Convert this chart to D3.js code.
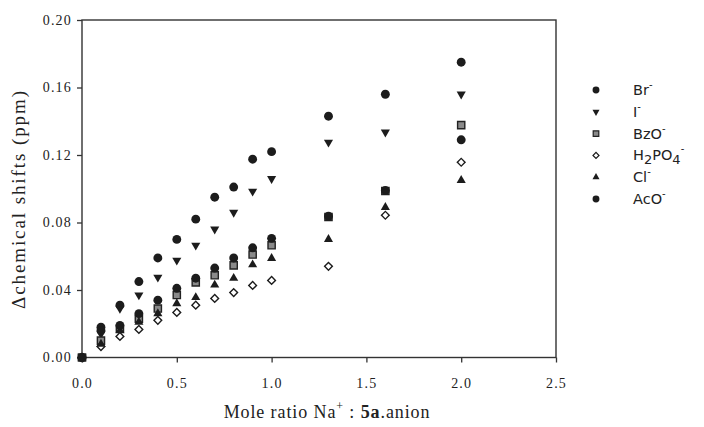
<!DOCTYPE html>
<meta charset="utf-8">
<style>
  body { margin: 0; background: #fff; }
  svg text { fill: #222; }
</style>
<svg width="704" height="427"></svg>
<script src="https://cdn.jsdelivr.net/npm/d3@7"></script>
<script>
// mole ratio (x) shared by all series
var ratios = [0, 0.1, 0.2, 0.3, 0.4, 0.5, 0.6, 0.7, 0.8, 0.9, 1.0, 1.3, 1.6, 2.0];

var br    = [0, 0.018, 0.031, 0.045, 0.059, 0.070, 0.082, 0.095, 0.101, 0.1175, 0.122, 0.143, 0.156, 0.175];
var iod   = [0, 0.014, 0.029, 0.037, 0.0475, 0.0576, 0.0665, 0.076, 0.086, 0.0985, 0.106, 0.1275, 0.1335, 0.156];
var bzo   = [0, 0.010, 0.017, 0.023, 0.029, 0.037, 0.0445, 0.0487, 0.0546, 0.061, 0.0665, 0.0833, 0.0987, 0.1377];
var h2po4 = [0, 0.0065, 0.0125, 0.0166, 0.022, 0.0267, 0.031, 0.035, 0.0385, 0.0427, 0.0457, 0.054, 0.0843, 0.1157];
var cl    = [0, 0.008, 0.016, 0.021, 0.026, 0.032, 0.0356, 0.043, 0.047, 0.055, 0.0588, 0.070, 0.089, 0.105];
var aco   = [0, 0.016, 0.019, 0.026, 0.034, 0.041, 0.047, 0.053, 0.059, 0.065, 0.0706, 0.0837, 0.099, 0.129];

var xTicks = [0, 0.5, 1.0, 1.5, 2.0, 2.5];
var yTicks = [0, 0.04, 0.08, 0.12, 0.16, 0.20];

var svg = d3.select("svg"),
    margin = {top: 20, right: 148, bottom: 70, left: 82},
    width = +svg.attr("width"),
    height = +svg.attr("height");

var x = d3.scaleLinear().domain([0, 2.5]).range([margin.left, 556]);
var y = d3.scaleLinear().domain([0, 0.2]).range([357.5, margin.top]);

var ink = "#1c1c1c";

// marker shapes
var shapes = {
    circle:   {type: d3.symbolCircle, size: 62, rot: 0, fill: ink, stroke: "none"},
    tridown:  {type: d3.symbolTriangle, size: 36, rot: 180, fill: ink, stroke: "none"},
    triup:    {type: d3.symbolTriangle, size: 36, rot: 0, fill: ink, stroke: "none"},
    square:   {type: d3.symbolSquare, size: 52, rot: 0, fill: "#8a8a8a", stroke: "#222"},
    diamond:  {type: d3.symbolSquare, size: 30, rot: 45, fill: "#fff", stroke: ink}
};

// legend order = draw order
var series = [
    {name: "Br", values: br, shape: "circle"},
    {name: "I", values: iod, shape: "tridown"},
    {name: "BzO", values: bzo, shape: "square"},
    {name: "H2PO4", values: h2po4, shape: "diamond"},
    {name: "Cl", values: cl, shape: "triup"},
    {name: "AcO", values: aco, shape: "circle"}
];

// axes
var xAxis = d3.axisBottom(x).tickValues(xTicks).tickFormat(d3.format(".1f")).tickSize(5).tickPadding(16);
var yAxis = d3.axisLeft(y).tickValues(yTicks).tickFormat(d3.format(".2f")).tickSize(5).tickPadding(5);

var gx = svg.append("g")
    .attr("transform", "translate(0," + y(0) + ")")
    .call(xAxis);
var gy = svg.append("g")
    .attr("transform", "translate(" + margin.left + ",0)")
    .call(yAxis);

[gx, gy].forEach(function(g) {
    g.select(".domain").remove();
    g.selectAll("line").attr("stroke", "#333").attr("stroke-width", 1.3);
    g.selectAll("text")
        .style("font-family", "'Liberation Serif', serif")
        .style("font-size", "14px")
        .style("letter-spacing", "1.2px")
        .attr("fill", "#333");
});

// frame
svg.append("rect")
    .attr("x", x(0))
    .attr("y", y(0.2))
    .attr("width", x(2.5) - x(0))
    .attr("height", y(0) - y(0.2))
    .attr("fill", "none")
    .attr("stroke", "#333")
    .attr("stroke-width", 1.4);

series.forEach(function(s) {
    var sh = shapes[s.shape];
    svg.append("g").selectAll("path")
        .data(s.values)
        .enter().append("path")
        .attr("d", d3.symbol().type(sh.type).size(sh.size)())
        .attr("transform", function(d, i) {
            return "translate(" + x(ratios[i]) + "," + y(d) + ") rotate(" + sh.rot + ")";
        })
        .attr("fill", sh.fill)
        .attr("stroke", sh.stroke)
        .attr("stroke-width", 1.4);
});

// legend
var legend = svg.append("g")
    .style("font-family", "'DejaVu Sans', sans-serif")
    .style("font-size", "14.5px");

series.forEach(function(s, i) {
    var ly = 90 + i * 21.8;
    var sh = shapes[s.shape];
    legend.append("path")
        .attr("d", d3.symbol().type(sh.type).size(sh.size * 0.6)())
        .attr("transform", "translate(596," + ly + ") rotate(" + sh.rot + ")")
        .attr("fill", sh.fill)
        .attr("stroke", sh.stroke)
        .attr("stroke-width", 1.2);

    var t = legend.append("text")
        .attr("x", 633)
        .attr("y", ly + 5);
    if (s.name === "H2PO4") {
        t.append("tspan").text("H");
        t.append("tspan").attr("dy", 4).style("font-size", "13px").text("2");
        t.append("tspan").attr("dy", -4).text("PO");
        t.append("tspan").attr("dy", 4).style("font-size", "13px").text("4");
        t.append("tspan").attr("dy", -12).style("font-size", "10px").text("-");
    } else {
        t.append("tspan").text(s.name);
        t.append("tspan").attr("dy", -7).style("font-size", "10px").text("-");
    }
});

// axis titles
svg.append("text")
    .attr("transform", "translate(25,200) rotate(-90)")
    .style("text-anchor", "middle")
    .style("font-family", "'Liberation Serif', serif")
    .style("font-size", "19px")
    .attr("textLength", 218)
    .attr("lengthAdjust", "spacing")
    .text("\u0394chemical shifts (ppm)");

var xl = svg.append("text")
    .attr("x", 327)
    .attr("y", 418)
    .style("text-anchor", "middle")
    .style("font-family", "'Liberation Serif', serif")
    .style("font-size", "18px")
    .style("letter-spacing", "0.9px");
xl.append("tspan").text("Mole ratio Na");
xl.append("tspan").attr("dy", -8).style("font-size", "12px").text("+");
xl.append("tspan").attr("dy", 8).text(" : ");
xl.append("tspan").style("font-weight", "bold").text("5a");
xl.append("tspan").text(".anion");
</script>
